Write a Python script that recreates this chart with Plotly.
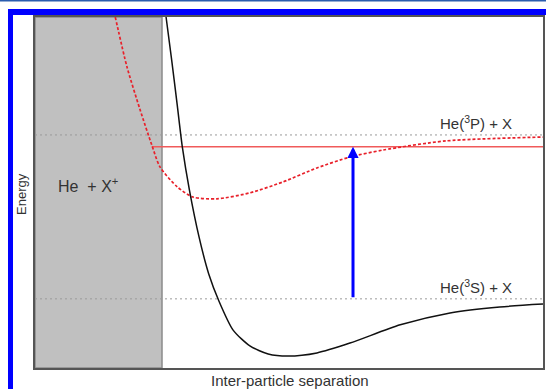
import plotly.graph_objects as go

# Potential curves (arbitrary units: separation 0-10, energy 0-10)
ion_sep = [2.58, 2.69, 2.80, 2.90, 3.04, 3.23, 3.42, 3.62, 3.90, 4.23, 4.59, 4.98,
           5.55, 6.20, 7.19, 8.17, 9.15, 10.0]
ion_energy = [10.0, 8.78, 7.49, 6.30, 5.07, 3.73, 2.68, 1.91, 1.08, 0.63, 0.40, 0.34,
              0.43, 0.71, 1.23, 1.57, 1.74, 1.82]

exc_sep = [1.58, 1.81, 2.07, 2.30, 2.46, 2.80, 3.11, 3.58, 4.23, 4.88, 5.55, 6.20,
           6.85, 8.09, 10.0]
exc_energy = [10.0, 8.58, 7.35, 6.35, 5.73, 5.16, 4.87, 4.82, 4.99, 5.30, 5.70, 6.01,
              6.21, 6.47, 6.58]

# Asymptotic levels and excitation
level_3p = 6.64
level_3s = 1.97
photon_energy = 6.30
photon_start = 2.30
transition_sep = 6.26
ionic_region_end = 2.50

level_labels = ["He(<sup>3</sup>P) + X", "He(<sup>3</sup>S) + X"]
region_label = "He\u00a0\u00a0+ X<sup>+</sup>"
x_title = "Inter-particle separation"
y_title = "Energy"

W, H = 546, 389
TEXT = "#333333"
FONT = "Liberation Sans, Arial, sans-serif"

fig = go.Figure()

# Shaded ionic region
fig.add_shape(type="rect", xref="x", yref="y", x0=0, x1=ionic_region_end, y0=0, y1=10,
              fillcolor="#c0c0c0", line=dict(color="#8a8a8a", width=1.5), layer="below")

# Dotted asymptote levels
for lvl in (level_3p, level_3s):
    fig.add_trace(go.Scatter(x=[0, 10], y=[lvl, lvl], mode="lines",
                             line=dict(color="#9a9a9a", width=1, dash="2px,3px"),
                             hoverinfo="skip", showlegend=False))

# Photon energy line
fig.add_trace(go.Scatter(x=[photon_start, 10], y=[photon_energy, photon_energy],
                         mode="lines", line=dict(color="#f05a5a", width=1.5),
                         hoverinfo="skip", showlegend=False))

# Excited-state potential
fig.add_trace(go.Scatter(x=exc_sep, y=exc_energy, mode="lines",
                         line=dict(color="#e8202a", width=1.7, dash="3px,2px",
                                   shape="spline", smoothing=0.7),
                         showlegend=False))

# Ground-state potential
fig.add_trace(go.Scatter(x=ion_sep, y=ion_energy, mode="lines",
                         line=dict(color="#111111", width=1.5,
                                   shape="spline", smoothing=0.7),
                         showlegend=False))

# Excitation arrow
fig.add_annotation(x=transition_sep, y=photon_energy, ax=transition_sep, ay=level_3s,
                   xref="x", yref="y", axref="x", ayref="y", text="",
                   showarrow=True, arrowhead=2, arrowsize=0.75, arrowwidth=3,
                   arrowcolor="#0000ff")

# Level labels
for lvl, lab in zip((level_3p, level_3s), level_labels):
    fig.add_annotation(x=(514 - 35) / 50.8, y=lvl, xref="x", yref="y",
                       text=lab, showarrow=False, xanchor="right",
                       yanchor="bottom", yshift=1,
                       font=dict(size=15, color=TEXT, family=FONT))
fig.add_annotation(x=(56 - 35) / 50.8, y=(368 - 185) / 35.1, xref="x", yref="y",
                   text=region_label, showarrow=False, xanchor="left", yanchor="middle",
                   font=dict(size=16, color=TEXT, family=FONT))

# Axis titles
fig.add_annotation(x=290 / W, y=1 - 380 / H, xref="paper", yref="paper", text=x_title,
                   showarrow=False, xanchor="center", yanchor="middle",
                   font=dict(size=15, color=TEXT, family=FONT))
fig.add_annotation(x=21 / W, y=1 - 194 / H, xref="paper", yref="paper", text=y_title,
                   showarrow=False, textangle=-90, xanchor="center", yanchor="middle",
                   font=dict(size=13, color=TEXT, family=FONT))

# Blue page frame
fig.add_shape(type="rect", xref="paper", yref="paper", x0=0, x1=1,
              y0=1 - 1.5 / H, y1=1, fillcolor="#2a5cae", line=dict(width=0))
fig.add_shape(type="rect", xref="paper", yref="paper", x0=8 / W, x1=1,
              y0=1 - 15 / H, y1=1 - 9 / H, fillcolor="#0000ff", line=dict(width=0))
fig.add_shape(type="rect", xref="paper", yref="paper", x0=8 / W, x1=13 / W,
              y0=0, y1=1 - 9 / H, fillcolor="#0000ff", line=dict(width=0))

axis_common = dict(showgrid=False, zeroline=False, showticklabels=False, ticks="",
                   showline=True, linecolor="#555555", linewidth=1.5, mirror=True,
                   fixedrange=True)
fig.update_layout(
    width=W, height=H,
    margin=dict(l=0, r=0, t=0, b=0),
    paper_bgcolor="white", plot_bgcolor="white",
    xaxis=dict(range=[0, 10], domain=[35 / W, 543 / W], **axis_common),
    yaxis=dict(range=[0, 10], domain=[1 - 368 / H, 1 - 17 / H], **axis_common),
    showlegend=False,
)

fig.write_html("out.html")
